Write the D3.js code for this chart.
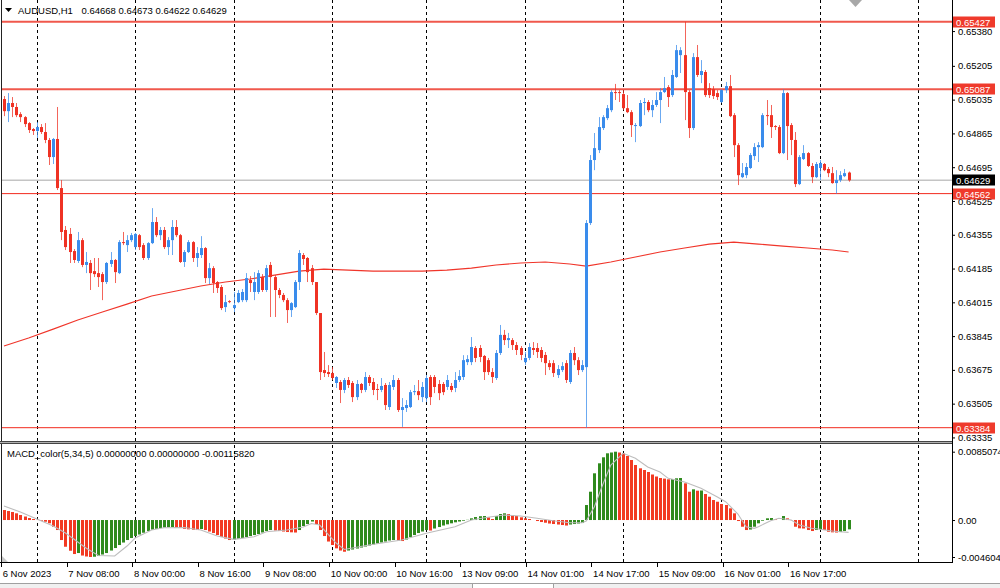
<!DOCTYPE html>
<html><head><meta charset="utf-8">
<script src="https://cdn.jsdelivr.net/npm/d3@7"></script>
<style>
html,body{margin:0;padding:0;background:#fff;}
svg{display:block;font-family:"Liberation Sans",Arial,sans-serif;}
</style></head><body>
<svg id="c" width="1000" height="588"></svg>
<script>
// ---------------- data ----------------
const symbolTitle = "AUDUSD,H1";
const titleValues = "0.64668 0.64673 0.64622 0.64629";
const macdTitle = "MACD_color(5,34,5) 0.00000000 0.00000000 -0.00115820";

const open = [
0.65038,0.64977,0.65018,0.64998,0.64962,0.64947,0.64917,0.64887,0.64877,0.64897,
0.64872,0.64832,0.64746,0.64837,0.64590,0.64379,0.64359,0.64273,0.64223,0.64328,
0.64203,0.64213,0.64172,0.64162,0.64157,0.64117,0.64208,0.64228,0.64162,0.64318,
0.64303,0.64328,0.64293,0.64353,0.64303,0.64238,0.64313,0.64419,0.64353,0.64379,
0.64293,0.64328,0.64394,0.64353,0.64218,0.64268,0.64318,0.64238,0.64253,0.64288,
0.64137,0.64187,0.64117,0.64092,0.63991,0.64021,0.63986,0.64016,0.64026,0.64026,
0.64127,0.64067,0.64067,0.64142,0.64077,0.64203,0.64142,0.64077,0.64052,0.64026,
0.63976,0.63991,0.64117,0.64253,0.64238,0.64187,0.64117,0.63961,0.63674,0.63664,
0.63659,0.63609,0.63614,0.63574,0.63624,0.63609,0.63538,0.63604,0.63574,0.63639,
0.63614,0.63579,0.63574,0.63599,0.63488,0.63589,0.63624,0.63473,0.63483,0.63488,
0.63563,0.63568,0.63538,0.63533,0.63639,0.63639,0.63604,0.63604,0.63589,0.63594,
0.63584,0.63624,0.63639,0.63714,0.63714,0.63785,0.63785,0.63745,0.63724,0.63664,
0.63634,0.63760,0.63851,0.63825,0.63825,0.63800,0.63785,0.63714,0.63735,0.63785,
0.63785,0.63775,0.63750,0.63709,0.63709,0.63649,0.63674,0.63709,0.63614,0.63760,
0.63724,0.63674,0.63689,0.64414,0.64731,0.64781,0.64892,0.64942,0.64982,0.65073,
0.65073,0.65063,0.64992,0.64972,0.64902,0.64902,0.65018,0.65023,0.64982,0.65008,
0.65033,0.65073,0.65098,0.65058,0.65149,0.65259,0.65259,0.65073,0.64892,0.65249,
0.65159,0.65174,0.65093,0.65088,0.65068,0.65023,0.65083,0.65103,0.64957,0.64806,
0.64645,0.64655,0.64691,0.64751,0.64796,0.64796,0.64957,0.64957,0.64902,0.64897,
0.64766,0.65068,0.64907,0.64832,0.64610,0.64736,0.64766,0.64701,0.64645,0.64691,
0.64711,0.64686,0.64665,0.64615,0.64630,0.64650,0.64668];

const high = [
0.65053,0.65068,0.65048,0.65018,0.64972,0.64952,0.64922,0.64892,0.64922,0.64912,
0.64917,0.64842,0.64842,0.64998,0.64630,0.64399,0.64389,0.64283,0.64369,0.64338,
0.64268,0.64228,0.64238,0.64238,0.64167,0.64218,0.64268,0.64233,0.64328,0.64369,
0.64353,0.64364,0.64364,0.64359,0.64313,0.64318,0.64489,0.64444,0.64394,0.64394,
0.64343,0.64429,0.64429,0.64359,0.64278,0.64328,0.64323,0.64293,0.64348,0.64293,
0.64213,0.64197,0.64122,0.64102,0.64052,0.64026,0.64067,0.64077,0.64082,0.64162,
0.64147,0.64167,0.64177,0.64157,0.64203,0.64218,0.64152,0.64087,0.64062,0.64036,
0.64016,0.64127,0.64278,0.64263,0.64243,0.64203,0.64117,0.63961,0.63765,0.63699,
0.63689,0.63644,0.63624,0.63634,0.63639,0.63619,0.63624,0.63609,0.63664,0.63649,
0.63634,0.63604,0.63634,0.63609,0.63614,0.63649,0.63634,0.63533,0.63523,0.63574,
0.63599,0.63624,0.63614,0.63649,0.63649,0.63649,0.63624,0.63614,0.63649,0.63609,
0.63664,0.63674,0.63749,0.63749,0.63840,0.63795,0.63800,0.63750,0.63735,0.63684,
0.63775,0.63901,0.63876,0.63861,0.63835,0.63815,0.63795,0.63765,0.63810,0.63815,
0.63810,0.63790,0.63765,0.63724,0.63724,0.63699,0.63714,0.63724,0.63775,0.63790,
0.63739,0.63724,0.64429,0.64756,0.64867,0.64947,0.64957,0.65008,0.65083,0.65114,
0.65083,0.65083,0.65058,0.64982,0.64917,0.65033,0.65043,0.65033,0.65033,0.65073,
0.65093,0.65149,0.65108,0.65184,0.65310,0.65299,0.65427,0.65083,0.65269,0.65310,
0.65234,0.65184,0.65118,0.65103,0.65083,0.65088,0.65124,0.65159,0.64967,0.64816,
0.64716,0.64716,0.64766,0.64816,0.64821,0.64967,0.65033,0.65008,0.64907,0.64907,
0.65087,0.65073,0.64917,0.64872,0.64756,0.64806,0.64771,0.64716,0.64721,0.64731,
0.64716,0.64696,0.64696,0.64680,0.64675,0.64686,0.64673];

const low = [
0.64952,0.64922,0.64947,0.64947,0.64922,0.64897,0.64867,0.64857,0.64842,0.64862,
0.64816,0.64706,0.64711,0.64580,0.64328,0.64278,0.64213,0.64213,0.64213,0.64192,
0.64162,0.64077,0.64142,0.64092,0.64026,0.64107,0.64193,0.64112,0.64157,0.64303,
0.64268,0.64318,0.64278,0.64278,0.64228,0.64228,0.64308,0.64343,0.64328,0.64283,
0.64253,0.64253,0.64343,0.64213,0.64193,0.64263,0.64218,0.64193,0.64238,0.64112,
0.64107,0.64062,0.64062,0.63976,0.63966,0.64011,0.63966,0.64011,0.64016,0.64016,
0.64067,0.64026,0.64057,0.64067,0.64067,0.63941,0.63941,0.64036,0.64016,0.63911,
0.63941,0.63986,0.64077,0.64203,0.64117,0.64102,0.63951,0.63624,0.63639,0.63639,
0.63624,0.63584,0.63508,0.63558,0.63584,0.63513,0.63523,0.63558,0.63563,0.63594,
0.63548,0.63523,0.63563,0.63473,0.63473,0.63574,0.63463,0.63388,0.63463,0.63483,
0.63548,0.63523,0.63513,0.63513,0.63498,0.63558,0.63523,0.63548,0.63574,0.63563,
0.63563,0.63614,0.63624,0.63699,0.63699,0.63714,0.63714,0.63624,0.63649,0.63609,
0.63624,0.63750,0.63800,0.63785,0.63775,0.63750,0.63724,0.63699,0.63724,0.63750,
0.63735,0.63714,0.63649,0.63674,0.63639,0.63634,0.63664,0.63609,0.63604,0.63699,
0.63649,0.63664,0.63384,0.64404,0.64680,0.64766,0.64882,0.64932,0.64972,0.65033,
0.65023,0.64982,0.64967,0.64847,0.64821,0.64897,0.64957,0.64972,0.64947,0.64998,
0.64917,0.65068,0.64998,0.65048,0.65144,0.65169,0.64932,0.64842,0.64882,0.65149,
0.65118,0.65048,0.65043,0.65038,0.65033,0.65018,0.65068,0.64947,0.64746,0.64605,
0.64640,0.64640,0.64686,0.64731,0.64721,0.64791,0.64907,0.64842,0.64882,0.64761,
0.64761,0.64731,0.64756,0.64595,0.64605,0.64731,0.64696,0.64615,0.64640,0.64630,
0.64675,0.64645,0.64612,0.64562,0.64620,0.64645,0.64622];

const close = [
0.64977,0.65018,0.64998,0.64957,0.64947,0.64912,0.64882,0.64877,0.64897,0.64872,
0.64832,0.64746,0.64837,0.64590,0.64369,0.64293,0.64268,0.64228,0.64328,0.64203,
0.64218,0.64162,0.64157,0.64142,0.64117,0.64213,0.64228,0.64167,0.64318,0.64313,
0.64328,0.64353,0.64359,0.64293,0.64238,0.64313,0.64419,0.64353,0.64379,0.64293,
0.64328,0.64394,0.64353,0.64218,0.64268,0.64318,0.64238,0.64263,0.64288,0.64137,
0.64187,0.64112,0.64087,0.63986,0.64016,0.64016,0.64001,0.64062,0.64067,0.64137,
0.64112,0.64117,0.64162,0.64077,0.64187,0.64142,0.64077,0.64052,0.64026,0.63976,
0.64011,0.64117,0.64263,0.64233,0.64167,0.64117,0.63961,0.63664,0.63659,0.63654,
0.63634,0.63639,0.63574,0.63624,0.63599,0.63538,0.63604,0.63574,0.63639,0.63609,
0.63574,0.63574,0.63594,0.63498,0.63599,0.63624,0.63473,0.63488,0.63498,0.63563,
0.63568,0.63548,0.63589,0.63634,0.63538,0.63589,0.63558,0.63563,0.63624,0.63574,
0.63624,0.63644,0.63724,0.63729,0.63790,0.63735,0.63740,0.63664,0.63664,0.63639,
0.63760,0.63851,0.63825,0.63835,0.63800,0.63775,0.63750,0.63735,0.63790,0.63775,
0.63765,0.63735,0.63709,0.63689,0.63659,0.63679,0.63694,0.63624,0.63760,0.63724,
0.63674,0.63699,0.64414,0.64731,0.64791,0.64897,0.64947,0.64992,0.65073,0.65068,
0.65068,0.64992,0.64972,0.64907,0.64907,0.65018,0.65023,0.64982,0.65008,0.65033,
0.65073,0.65093,0.65048,0.65159,0.65284,0.65284,0.65073,0.64892,0.65249,0.65159,
0.65179,0.65058,0.65058,0.65053,0.65048,0.65083,0.65103,0.64952,0.64806,0.64655,
0.64665,0.64696,0.64756,0.64796,0.64806,0.64957,0.64952,0.64897,0.64897,0.64766,
0.65068,0.64902,0.64832,0.64610,0.64746,0.64766,0.64701,0.64645,0.64711,0.64716,
0.64680,0.64665,0.64615,0.64630,0.64655,0.64665,0.64629];

// moving average (red line), read at sample bars
const maBars = [0,6,12,18,24,30,36,42,48,54,60,66,72,78,84,90,96,102,108,114,120,126,132,138,142,148,154,160,166,172,178,184,190,196,202,206];
const maVals = [0.63795,0.63835,0.63880,0.63926,0.63966,0.64006,0.64047,0.64072,0.64097,0.64117,
0.64132,0.64152,0.64172,0.64182,0.64177,0.64172,0.64172,0.64172,0.64177,0.64187,
0.64203,0.64213,0.64218,0.64208,0.64197,0.64218,0.64243,0.64268,0.64288,0.64308,
0.64318,0.64308,0.64298,0.64288,0.64278,0.64268];

// MACD histogram (one per bar)
const macdHist = [
0.001246,0.001121,0.000997,0.000835,0.000623,0.000436,0.000249,0.000125,0.000025,-0.000087,
-0.000212,-0.000411,-0.000835,-0.001246,-0.002491,-0.003326,-0.003824,-0.004235,-0.004110,-0.004422,
-0.004540,-0.004604,-0.004571,-0.004484,-0.004297,-0.004110,-0.003799,-0.003488,-0.003114,-0.002803,
-0.002491,-0.002242,-0.001993,-0.001806,-0.001582,-0.001370,-0.001208,-0.001096,-0.000996,-0.000934,
-0.000897,-0.000872,-0.000934,-0.000996,-0.001096,-0.001158,-0.001208,-0.001246,-0.001121,-0.001246,
-0.001432,-0.001619,-0.001868,-0.002118,-0.002304,-0.002491,-0.002454,-0.002367,-0.002242,-0.002118,
-0.001993,-0.001868,-0.001744,-0.001557,-0.001370,-0.001246,-0.001308,-0.001370,-0.001432,-0.001495,
-0.001532,-0.001557,-0.001246,-0.000747,-0.000498,-0.000187,-0.000498,-0.001246,-0.001993,-0.002678,
-0.003114,-0.003525,-0.003799,-0.003949,-0.003799,-0.003675,-0.003550,-0.003425,-0.003301,-0.003176,
-0.003052,-0.002927,-0.002803,-0.002678,-0.002553,-0.002491,-0.002553,-0.002616,-0.002429,-0.002118,
-0.001868,-0.001619,-0.001432,-0.001246,-0.001308,-0.001059,-0.000872,-0.000685,-0.000536,-0.000411,
-0.000286,-0.000187,-0.000087,0.000025,0.000212,0.000374,0.000473,0.000498,0.000336,0.000125,
0.000498,0.000747,0.000835,0.000747,0.000623,0.000498,0.000336,0.000212,0.000125,0.000000,
-0.000125,-0.000249,-0.000336,-0.000436,-0.000498,-0.000561,-0.000623,-0.000685,-0.000561,-0.000498,
-0.000436,-0.000374,0.001868,0.003525,0.005817,0.007063,0.007810,0.008308,0.008408,0.0085074,
0.008408,0.008308,0.007972,0.007474,0.006851,0.006440,0.006228,0.005979,0.005667,0.005418,
0.005232,0.005157,0.005070,0.005107,0.005194,0.005232,0.004571,0.003525,0.003824,0.003650,
0.003675,0.003239,0.002902,0.002491,0.002279,0.001993,0.001868,0.001457,0.000835,-0.000125,
-0.000835,-0.001246,-0.001183,-0.000835,-0.000411,-0.000087,0.000212,0.000249,0.000087,0.000000,
0.000498,0.000212,-0.000012,-0.000835,-0.001034,-0.001059,-0.001246,-0.001370,-0.001246,-0.001158,
-0.001246,-0.001457,-0.001532,-0.001557,-0.001495,-0.001370,-0.0011582];

// MACD signal line, read at sample bars
const sigBars = [0,4,8,12,15,18,20,23,27,30,32,36,39,44,48,52,56,61,64,69,73,75,77,79,81,83,89,97,103,110,114,118,122,126,130,134,138,141,142,144,146,148,151,154,157,160,162,166,170,174,176,179,181,183,184,187,189,192,194,197,199,202,204,206];
const sigVals = [0.001744,0.000997,0.000125,-0.000747,-0.001619,-0.002740,-0.003488,-0.004422,-0.004484,-0.003239,
-0.002242,-0.001246,-0.000959,-0.000934,-0.001246,-0.001993,-0.002404,-0.002080,-0.001457,-0.001246,
-0.000872,-0.000436,-0.000623,-0.001744,-0.002865,-0.003675,-0.003114,-0.002491,-0.001657,-0.000835,
0,0.000336,0.000623,0.000498,0.000212,-0.000087,-0.000336,-0.000336,-0.000125,0.001657,
0.004360,0.006851,0.008308,0.007686,0.006602,0.005979,0.005194,0.004733,0.003949,0.002865,
0.002279,0.000747,-0.000835,-0.001034,-0.000835,-0.000087,0.000212,0,-0.000623,-0.001034,
-0.001158,-0.001370,-0.001457,-0.001532];

const levelLines = [0.65427, 0.65087, 0.64562, 0.63384];
const levelHeavy = [true, true, false, false];
const currentPrice = 0.64629;
const priceTicks = [0.65380,0.65205,0.65035,0.64865,0.64695,0.64525,0.64355,0.64185,0.64015,0.63845,0.63675,0.63505,0.63335];
const macdTicks = [0.0085074, 0, -0.004604];
const macdTickLabels = ["0.0085074", "0.00", "-0.004604"];
const timeLabelBars = [0,16,32,48,64,80,96,112,128,144,160,176,192];
const timeLabels = ["6 Nov 2023","7 Nov 08:00","8 Nov 00:00","8 Nov 16:00","9 Nov 08:00","10 Nov 00:00","10 Nov 16:00","13 Nov 09:00","14 Nov 01:00","14 Nov 17:00","15 Nov 09:00","16 Nov 01:00","16 Nov 17:00"];
const dayStartBars = [8,32,56,80,103,127,151,175,199,223];

// ---------------- layout ----------------
const svg = d3.select("#c");
const plotRight = 952;
const mainBottom = 441, macdTop = 444, macdBottom = 562;
const FS = "9.5px";
const bullCol = "#3a8cec", bearCol = "#ef3224";
const macdGreen = "#2f8a1d", macdRed = "#f23a22";

const x = d3.scaleLinear().domain([0, 230]).range([4, 4 + 4.1 * 230]);
const y = d3.scaleLinear().domain([0.633221, 0.655364]).range([440, 0]);
const ym = d3.scaleLinear().domain([-0.004604, 0.0085074]).range([557, 451.7]);
const px = i => Math.round(x(i));

svg.append("rect").attr("width",1000).attr("height",588).attr("fill","#fff");

const defs = svg.append("defs");
defs.append("clipPath").attr("id","cm").append("rect").attr("x",1).attr("y",0).attr("width",plotRight-1).attr("height",mainBottom);
defs.append("clipPath").attr("id","cd").append("rect").attr("x",1).attr("y",macdTop+1).attr("width",plotRight-1).attr("height",macdBottom-macdTop-1);

// grid
const grid = svg.append("g");
dayStartBars.forEach(b => {
  const gx = px(b) + 0.5;
  grid.append("line").attr("x1",gx).attr("x2",gx).attr("y1",0).attr("y2",mainBottom)
    .attr("stroke","#000").attr("stroke-dasharray","3,3");
  grid.append("line").attr("x1",gx).attr("x2",gx).attr("y1",macdTop+1).attr("y2",macdBottom)
    .attr("stroke","#000").attr("stroke-dasharray","3,3");
});

const main = svg.append("g").attr("clip-path","url(#cm)");

// MA
main.append("path")
  .attr("d", d3.line().x(d => x(d[0])).y(d => y(d[1]))(maBars.map((b,k)=>[b,maVals[k]])))
  .attr("fill","none").attr("stroke","#f0352a").attr("stroke-width",1.1);

// level lines
levelLines.forEach((v,k) => {
  main.append("line").attr("x1",0).attr("x2",plotRight).attr("y1",y(v)).attr("y2",y(v))
    .attr("stroke", levelHeavy[k] ? "#f0584c" : "#f22a1e")
    .attr("stroke-width", levelHeavy[k] ? 2 : 1);
});
// current price line
main.append("line").attr("x1",0).attr("x2",plotRight).attr("y1",y(currentPrice)).attr("y2",y(currentPrice))
  .attr("stroke","#c4c4c4").attr("stroke-width",1.5);

// candles
const n = close.length;
const idx = d3.range(n);
const col = i => close[i] >= open[i] ? bullCol : bearCol;
main.selectAll("line.wick").data(idx).join("line").attr("class","wick")
  .attr("x1", i => px(i) + 0.5).attr("x2", i => px(i) + 0.5)
  .attr("y1", i => y(high[i])).attr("y2", i => y(low[i]))
  .attr("stroke", col).attr("stroke-opacity",0.75).attr("stroke-width",1);
main.selectAll("rect.body").data(idx).join("rect").attr("class","body")
  .attr("x", i => px(i) - 1).attr("width", 3)
  .attr("y", i => Math.min(y(open[i]), y(close[i])))
  .attr("height", i => Math.max(1, Math.abs(y(open[i]) - y(close[i]))))
  .attr("fill", col);

// MACD panel
const md = svg.append("g").attr("clip-path","url(#cd)");
md.selectAll("rect.h").data(idx).join("rect").attr("class","h")
  .attr("x", i => px(i) - 1).attr("width", 3)
  .attr("y", i => Math.min(ym(0), ym(macdHist[i])))
  .attr("height", i => Math.abs(ym(macdHist[i]) - ym(0)))
  .attr("fill", i => (i > 0 && macdHist[i] > macdHist[i-1]) ? macdGreen : macdRed);
md.append("path")
  .attr("d", d3.line().x(d => x(d[0])).y(d => ym(d[1]))(sigBars.map((b,k)=>[b,sigVals[k]])))
  .attr("fill","none").attr("stroke","#bdbdbd").attr("stroke-width",1.1);

// frames
svg.append("line").attr("x1",1.5).attr("x2",1.5).attr("y1",0).attr("y2",macdBottom).attr("stroke","#222");
svg.append("line").attr("x1",plotRight+0.5).attr("x2",plotRight+0.5).attr("y1",0).attr("y2",macdBottom).attr("stroke","#000");
svg.append("line").attr("x1",0).attr("x2",plotRight).attr("y1",441.5).attr("y2",441.5).attr("stroke","#444");
svg.append("line").attr("x1",0).attr("x2",plotRight).attr("y1",442.5).attr("y2",442.5).attr("stroke","#b0b0b0");
svg.append("line").attr("x1",0).attr("x2",plotRight).attr("y1",443.5).attr("y2",443.5).attr("stroke","#444");
svg.append("line").attr("x1",0).attr("x2",plotRight+1).attr("y1",macdBottom+0.5).attr("y2",macdBottom+0.5).attr("stroke","#000");

// small markers
svg.append("polygon").attr("points","849,0 862,0 855.5,7").attr("fill","#a8a8a8");
svg.append("polygon").attr("points","2,556 2,562 8,562").attr("fill","#c8c8c8");

// titles
svg.append("polygon").attr("points","5,8 12,8 8.5,12").attr("fill","#000");
svg.append("text").attr("x",18).attr("y",13.5).attr("font-size",FS).attr("fill","#000").text(symbolTitle);
svg.append("text").attr("x",81.5).attr("y",13.5).attr("font-size",FS).attr("fill","#000").text(titleValues);
svg.append("text").attr("x",7).attr("y",456.5).attr("font-size",FS).attr("fill","#000").text(macdTitle);

// price axis
const pa = svg.append("g").attr("transform",`translate(${plotRight},0)`)
  .call(d3.axisRight(y).tickValues(priceTicks).tickSize(3).tickPadding(3).tickFormat(d3.format(".5f")));
pa.select(".domain").remove();
pa.selectAll("text").attr("font-size",FS).attr("font-family","Liberation Sans, Arial, sans-serif").attr("fill","#000");
pa.selectAll("line").attr("stroke","#000");

// macd axis
const ma = svg.append("g").attr("transform",`translate(${plotRight},0)`)
  .call(d3.axisRight(ym).tickValues(macdTicks).tickSize(3).tickPadding(3).tickFormat((d,k)=>macdTickLabels[k]));
ma.select(".domain").remove();
ma.selectAll("text").attr("font-size",FS).attr("font-family","Liberation Sans, Arial, sans-serif").attr("fill","#000");
ma.selectAll("line").attr("stroke","#000");

// price label boxes
function priceBox(v, fill) {
  const yy = Math.round(y(v));
  svg.append("rect").attr("x",953).attr("y",yy-5.5).attr("width",42).attr("height",11).attr("fill",fill);
  svg.append("text").attr("x",956).attr("y",yy+3.5).attr("font-size",FS).attr("fill","#fff").text(d3.format(".5f")(v));
}
levelLines.forEach(v => priceBox(v, "#ef3a2c"));
priceBox(currentPrice, "#000");

// time axis
const ta = svg.append("g");
timeLabelBars.forEach((b,k) => {
  const tx = Math.round(x(b)) - 2.5;
  ta.append("line").attr("x1",tx).attr("x2",tx).attr("y1",macdBottom+1).attr("y2",macdBottom+5).attr("stroke","#000");
  ta.append("text").attr("x", Math.max(1.5, x(b) - 1.3)).attr("y",576.5).attr("font-size",FS).attr("fill","#000").text(timeLabels[k]);
});

// bottom tab strip
svg.append("rect").attr("x",0).attr("y",583).attr("width",1000).attr("height",5).attr("fill","#f0f0f0");
svg.append("line").attr("x1",0).attr("x2",1000).attr("y1",583.5).attr("y2",583.5).attr("stroke","#a0a0a0");
svg.append("rect").attr("x",472.5).attr("y",583.5).attr("width",81).attr("height",6).attr("fill","#fff").attr("stroke","#a0a0a0");
</script>
</body></html>
